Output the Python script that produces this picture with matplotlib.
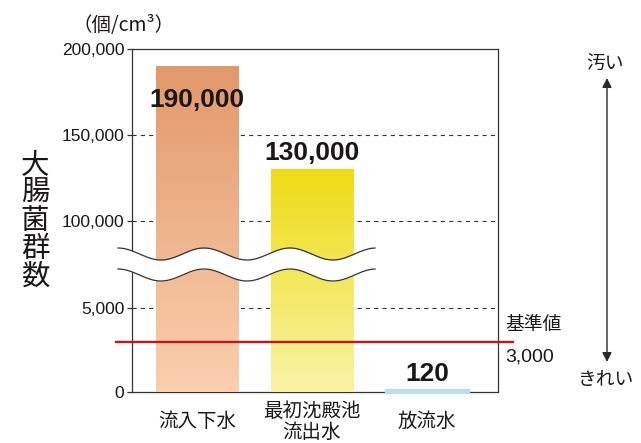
import numpy as np
import matplotlib
matplotlib.use("Agg")
import matplotlib.pyplot as plt
from matplotlib.patches import FancyArrowPatch
from matplotlib.colors import LinearSegmentedColormap
from matplotlib.transforms import blended_transform_factory

# ---- data ----
categories = ["流入下水", "最初沈殿池\n流出水", "放流水"]
counts = [190000, 130000, 120]
count_labels = ["190,000", "130,000", "120"]
standard_value = 3000
ytick_values = [0, 5000, 100000, 150000, 200000]
ytick_labels = ["0", "5,000", "100,000", "150,000", "200,000"]

# piecewise axis: values -> relative height (broken between 5,000 and 100,000)
scale_values = [0, 5000, 100000, 150000, 200000]
scale_heights = [0, 84, 171, 257, 343]

bar_top_colors = ["#E2986A", "#EEDC14", "#BCDDEB"]
bar_bottom_colors = ["#FAD0AE", "#F9F3A8", "#BCDDEB"]

JP = ["Noto Sans CJK JP", "DejaVu Sans"]
NUM = ["Liberation Sans", "DejaVu Sans"]
INK = "#1a1718"

fig = plt.figure(figsize=(6.41, 4.43), dpi=100)
ax = fig.add_axes([132 / 641, 1 - 392 / 443, 366 / 641, 343 / 443])


def fwd(y):
    return np.interp(y, scale_values, scale_heights)


def inv(p):
    return np.interp(p, scale_heights, scale_values)


ax.set_yscale("function", functions=(fwd, inv))
x = np.arange(len(categories))
ax.set_xlim(-0.565, 2.617)
ax.set_ylim(0, 200000)
ax.set_autoscale_on(False)

# bars: outline patch from the data, gradient image clipped to it
bars = ax.bar(x, counts, width=0.72, color="none", edgecolor="none", zorder=3)
to_axes = ax.transData + ax.transAxes.inverted()
for i, b in enumerate(bars):
    if bar_top_colors[i] == bar_bottom_colors[i]:
        b.set_facecolor(bar_top_colors[i])
        b.set_edgecolor(bar_top_colors[i])
        b.set_linewidth(2.4)
        b.set_zorder(4)
        b.set_clip_on(False)
        continue
    (x0, _), = to_axes.transform([(b.get_x(), 0)])
    (x1, top), = to_axes.transform([(b.get_x() + b.get_width(), b.get_height())])
    cmap = LinearSegmentedColormap.from_list(
        f"g{i}", [bar_bottom_colors[i], bar_top_colors[i]])
    grad = np.linspace(0, 1, 256).reshape(-1, 1)
    im = ax.imshow(grad, cmap=cmap, origin="lower", aspect="auto",
                   extent=(x0, x1, 0, top), transform=ax.transAxes,
                   zorder=3, interpolation="bilinear")
    im.set_clip_path(b)

# value labels
for i, (v, lab) in enumerate(zip(counts, count_labels)):
    if i == 0:
        ax.annotate(lab, (x[i], v), xytext=(0, -16), textcoords="offset points",
                    ha="center", va="top", fontsize=19, fontweight="bold",
                    family=NUM, color=INK, zorder=6)
    else:
        ax.annotate(lab, (x[i], v), xytext=(0, 3), textcoords="offset points",
                    ha="center", va="bottom", fontsize=19, fontweight="bold",
                    family=NUM, color=INK, zorder=6)

# dashed reference lines
for yv in ytick_values[1:-1]:
    ax.axhline(yv, color="#333333", lw=0.8, ls=(0, (3.75, 3.75)), zorder=2)

# standard line
blend = blended_transform_factory(ax.transAxes, ax.transData)
ax.plot([-0.044, 1.041], [standard_value, standard_value], transform=blend,
        color="#C0161E", lw=1.7, clip_on=False, zorder=5)
ax.text(1.02, 0.198, "基準値", transform=ax.transAxes, family=JP, fontsize=13.5,
        ha="left", va="center", color=INK)
ax.text(1.02, 0.102, f"{standard_value:,}", transform=ax.transAxes, family=NUM,
        fontsize=14, ha="left", va="center", color=INK)

# axis styling
for s in ax.spines.values():
    s.set_color("#333333")
    s.set_linewidth(0.9)
ax.set_yticks(ytick_values)
ax.set_yticklabels(ytick_labels, family=NUM, fontsize=12.5, color=INK)
ax.tick_params(axis="y", length=3.5, width=0.9, color="#333333", pad=2)
ax.set_xticks(x)
ax.set_xticklabels(categories, family=JP, fontsize=14, color=INK,
                   linespacing=0.98)
for t in ax.get_xticklabels():
    t.set_va("center")
ax.tick_params(axis="x", length=0, pad=21.5)

# axis break marks
px = np.linspace(118, 375, 400)
phase = np.cos(2 * np.pi * (px - 118) / 86)
xa = (px - 132) / 366
upper = (392 - (254 - 6 * phase)) / 343
lower = (392 - (275 - 6 * phase)) / 343
ax.fill_between(xa, lower, upper, color="white", transform=ax.transAxes,
                clip_on=False, zorder=6, lw=0)
ax.plot(xa, upper, color="#333333", lw=0.9, transform=ax.transAxes,
        clip_on=False, zorder=7)
ax.plot(xa, lower, color="#333333", lw=0.9, transform=ax.transAxes,
        clip_on=False, zorder=7)

# axis titles
fig.text(35 / 641, 1 - 221 / 443, "大\n腸\n菌\n群\n数", family=JP, fontsize=20.5,
         ha="center", va="center", linespacing=0.9, color=INK)
fig.text(124 / 641, 1 - 25 / 443, "（個/cm³）", family=JP, fontsize=14,
         ha="center", va="center", color=INK)

# dirty / clean arrow
fig.add_artist(FancyArrowPatch(
    (607 / 641, 1 - 78 / 443), (607 / 641, 1 - 362 / 443),
    transform=fig.transFigure, arrowstyle="<|-|>", mutation_scale=14,
    color="#2a2a2a", lw=1.0, shrinkA=0, shrinkB=0))
fig.text(605 / 641, 1 - 63 / 443, "汚い", family=JP, fontsize=13.5,
         ha="center", va="center", color=INK)
fig.text(605 / 641, 1 - 379 / 443, "きれい", family=JP, fontsize=13.5,
         ha="center", va="center", color=INK)

fig.savefig("out.png", dpi=100)
